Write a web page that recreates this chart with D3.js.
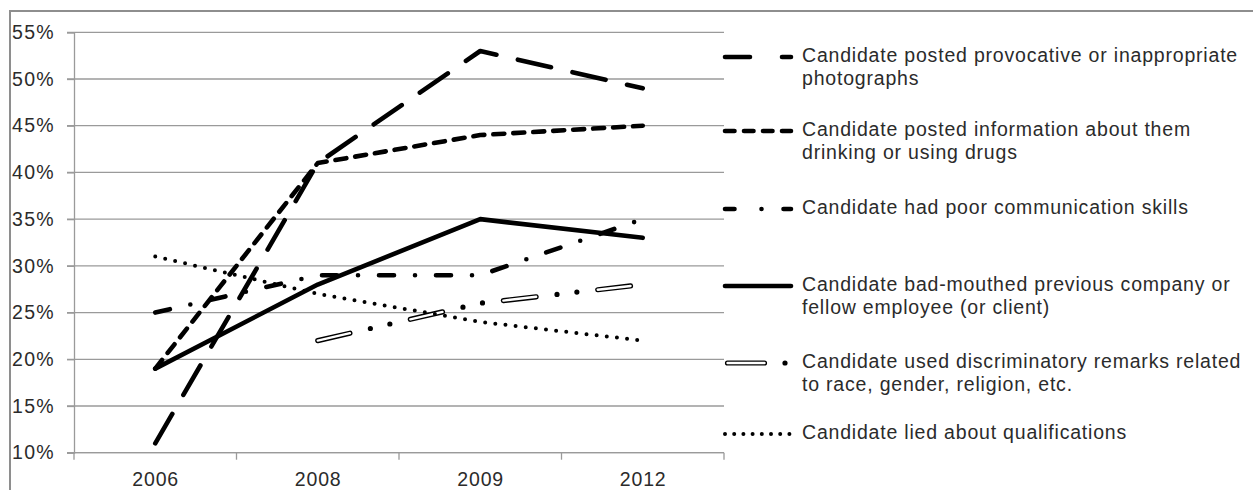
<!DOCTYPE html>
<html>
<head>
<meta charset="utf-8">
<script src="https://cdn.jsdelivr.net/npm/d3@7"></script>
<style>
  html, body { margin: 0; padding: 0; background: #fff; }
  svg { display: block; }
  text { font-family: "Liberation Sans", Arial, sans-serif; fill: #2b2b2b; }
</style>
</head>
<body>
<svg id="chart" width="1253" height="490"></svg>
<script>
// Survey years on the horizontal axis
const years = ["2006", "2008", "2009", "2012"];

// Share of hiring managers citing each reason (null = not asked that year)
const photographs     = [0.11, 0.41, 0.53, 0.49];
const drinkingDrugs   = [0.19, 0.41, 0.44, 0.45];
const communication   = [0.25, 0.29, 0.29, 0.35];
const badMouthed      = [0.19, 0.28, 0.35, 0.33];
const discriminatory  = [null, 0.22, 0.26, 0.28];
const liedQualifs     = [0.31, 0.27, 0.24, 0.22];

// Legend labels, one array of lines per series
const seriesLabels = [
  ["Candidate posted provocative or inappropriate", "photographs"],
  ["Candidate posted information about them", "drinking or using drugs"],
  ["Candidate had poor communication skills"],
  ["Candidate bad-mouthed previous company or", "fellow employee (or client)"],
  ["Candidate used discriminatory remarks related", "to race, gender, religion, etc."],
  ["Candidate lied about qualifications"]
];

// Y axis tick values
const yTicks = [0.10, 0.15, 0.20, 0.25, 0.30, 0.35, 0.40, 0.45, 0.50, 0.55];

const seriesValues = [photographs, drinkingDrugs, communication, badMouthed, discriminatory, liedQualifs];

// Line styling per series: dash pattern on the plot and in the legend sample
const styles = [
  { width: 4.6, dash: "34 22",            legendDash: "25 32 9 100" },
  { width: 4.6, dash: "11 9",             legendDash: "9.5 9.5" },
  { width: 4.6, dash: "15 21 0 21",       legendDash: "9.5 27 0 22 10 100" },
  { width: 4.6, dash: null,               legendDash: null },
  { width: 5.2, dash: "33 21 0 20 0 21",  legendDash: "37 20.5 0 100", double: true,
    inner: "33 62", legendInner: "37 200" },
  { width: 4,   dash: "0 10.2",           legendDash: "0 9.2" }
];

const FONT = 19.5;
const SPACING = 0.8;

const svg = d3.select("#chart");

// outer chart frame
svg.append("rect")
  .attr("x", 10).attr("y", 11)
  .attr("width", 1300).attr("height", 520)
  .attr("fill", "none").attr("stroke", "#8e8e8e").attr("stroke-width", 2);

const plot = { left: 74, right: 724, top: 32.3, bottom: 452.7 };

const x = d3.scaleBand().domain(years).range([plot.left, plot.right]).padding(0);
const y = d3.scaleLinear().domain([0.10, 0.55]).range([plot.bottom, plot.top]);

// horizontal gridlines
svg.append("g")
  .selectAll("line")
  .data(yTicks)
  .join("line")
  .attr("x1", plot.left - 7).attr("x2", plot.right)
  .attr("y1", d => y(d)).attr("y2", d => y(d))
  .attr("stroke", "#9a9a9a").attr("stroke-width", 1.3);

// y axis
const yAxis = svg.append("g")
  .attr("transform", `translate(${plot.left},0)`)
  .call(d3.axisLeft(y).tickValues(yTicks).tickFormat(d3.format(".0%")).tickSize(7).tickPadding(12));
yAxis.select(".domain").attr("stroke", "#9a9a9a").attr("stroke-width", 1.3);
yAxis.selectAll(".tick line").attr("stroke", "#9a9a9a").attr("stroke-width", 1.3);
yAxis.selectAll(".tick text")
  .attr("font-size", FONT).attr("fill", "#2b2b2b")
  .attr("letter-spacing", 1.3)
  .style("font-family", "'Liberation Sans', Arial, sans-serif");

// x axis: ticks sit between categories
const xAxisG = svg.append("g").attr("transform", `translate(0,${plot.bottom})`);
xAxisG.append("line")
  .attr("x1", plot.left).attr("x2", plot.right)
  .attr("stroke", "#9a9a9a").attr("stroke-width", 1.3);
const boundaries = years.map(d => x(d)).concat([x(years[years.length - 1]) + x.bandwidth()]);
xAxisG.selectAll("line.tk")
  .data(boundaries)
  .join("line").attr("class", "tk")
  .attr("x1", d => d).attr("x2", d => d)
  .attr("y1", 0).attr("y2", 7)
  .attr("stroke", "#9a9a9a").attr("stroke-width", 1.3);
xAxisG.selectAll("text")
  .data(years)
  .join("text")
  .attr("x", d => x(d) + x.bandwidth() / 2 + SPACING / 2)
  .attr("y", 28)
  .attr("text-anchor", "middle")
  .attr("dominant-baseline", "middle")
  .attr("font-size", FONT)
  .attr("letter-spacing", SPACING)
  .text(d => d);

// series lines
const line = d3.line()
  .defined(d => d.v !== null)
  .x(d => x(d.year) + x.bandwidth() / 2)
  .y(d => y(d.v));

const linesG = svg.append("g");
seriesValues.forEach((vals, i) => {
  const st = styles[i];
  const pts = vals.map((v, j) => ({ year: years[j], v }));
  linesG.append("path")
    .attr("d", line(pts))
    .attr("fill", "none")
    .attr("stroke", "#000")
    .attr("stroke-width", st.width)
    .attr("stroke-linecap", "round")
    .attr("stroke-linejoin", "round")
    .attr("stroke-dasharray", st.dash);
  if (st.double) {
    linesG.append("path")
      .attr("d", line(pts))
      .attr("fill", "none")
      .attr("stroke", "#fff")
      .attr("stroke-width", 2.4)
      .attr("stroke-linecap", "round")
      .attr("stroke-dasharray", st.inner);
  }
});

// legend
const legendRows = [57, 131, 209, 286, 363, 434];
const legend = svg.append("g");
seriesLabels.forEach((lines, i) => {
  const st = styles[i];
  const ly = legendRows[i];
  const x0 = st.double ? 727.5 : 725;
  legend.append("line")
    .attr("x1", x0).attr("x2", 791)
    .attr("y1", ly).attr("y2", ly)
    .attr("stroke", "#000")
    .attr("stroke-width", st.width)
    .attr("stroke-linecap", "round")
    .attr("stroke-dasharray", st.legendDash);
  if (st.double) {
    legend.append("line")
      .attr("x1", x0).attr("x2", 791)
      .attr("y1", ly).attr("y2", ly)
      .attr("stroke", "#fff")
      .attr("stroke-width", 2.4)
      .attr("stroke-linecap", "round")
      .attr("stroke-dasharray", st.legendInner);
  }
  const t = legend.append("text")
    .attr("x", 802).attr("y", ly)
    .attr("font-size", FONT)
    .attr("letter-spacing", SPACING)
    .attr("dominant-baseline", "middle");
  lines.forEach((ln, k) => {
    t.append("tspan").attr("x", 802).attr("dy", k === 0 ? 0 : 23).text(ln);
  });
});
</script>
</body>
</html>
